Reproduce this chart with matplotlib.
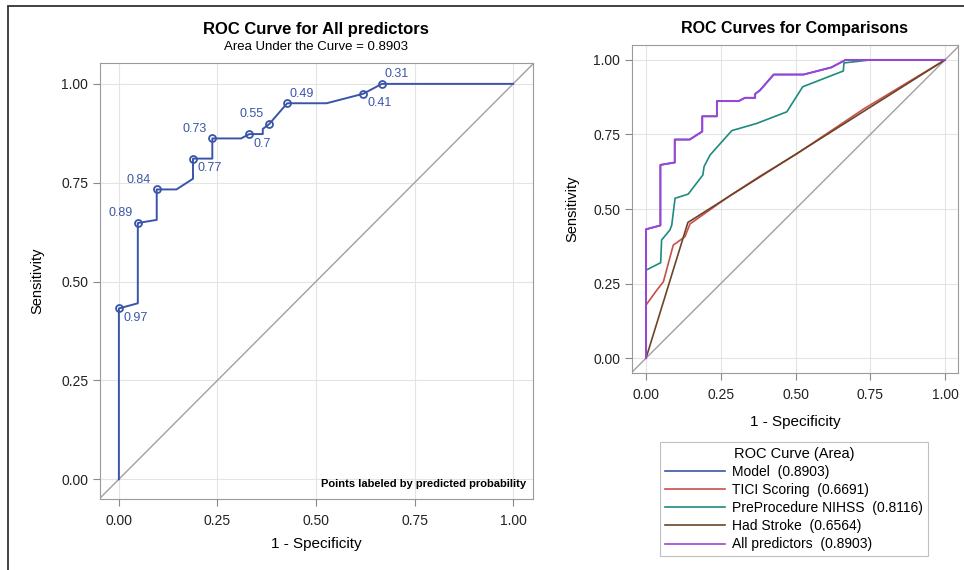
import matplotlib.pyplot as plt
from matplotlib.lines import Line2D
from matplotlib.patches import Rectangle

plt.rcParams['font.family'] = ['Liberation Sans', 'DejaVu Sans']

# left panel: model ROC path (1 - specificity, sensitivity)
model_fpr = [0.0, 0.0, 0.048, 0.048, 0.096, 0.096, 0.146, 0.188, 0.188, 0.237, 0.237,
             0.31, 0.331, 0.365, 0.365, 0.381, 0.427, 0.527, 0.62, 0.667, 1.0]
model_tpr = [0.0, 0.432, 0.445, 0.648, 0.656, 0.733, 0.733, 0.76, 0.811, 0.811, 0.862,
             0.862, 0.873, 0.873, 0.886, 0.898, 0.951, 0.951, 0.975, 1.0, 1.0]

# labeled points (predicted probability)
lab_fpr = [0.0, 0.048, 0.096, 0.188, 0.237, 0.331, 0.381, 0.427, 0.62, 0.667]
lab_tpr = [0.432, 0.648, 0.733, 0.811, 0.862, 0.873, 0.898, 0.951, 0.975, 1.0]
lab_txt = ['0.97', '0.89', '0.84', '0.77', '0.73', '0.7', '0.55', '0.49', '0.41', '0.31']
lab_pos = ['br', 'al', 'al', 'br', 'al', 'br', 'al', 'ar', 'br', 'ar']

# right panel: comparison curves
tici_fpr = [0.0, 0.0, 0.036, 0.058, 0.091, 0.13, 0.147, 0.281, 0.381, 0.504, 0.727, 1.0]
tici_tpr = [0.0, 0.178, 0.228, 0.256, 0.379, 0.407, 0.45, 0.545, 0.61, 0.685, 0.835, 1.0]

nihss_fpr = [0.0, 0.0, 0.049, 0.052, 0.08, 0.086, 0.097, 0.141, 0.19, 0.194, 0.214, 0.287,
             0.37, 0.471, 0.524, 0.66, 0.662, 0.75, 1.0]
nihss_tpr = [0.0, 0.295, 0.32, 0.396, 0.43, 0.446, 0.536, 0.55, 0.614, 0.642, 0.681, 0.763,
             0.787, 0.826, 0.91, 0.963, 0.99, 1.0, 1.0]

stroke_fpr = [0.0, 0.14, 1.0]
stroke_tpr = [0.0, 0.455, 1.0]

names = ['Model', 'TICI Scoring', 'PreProcedure NIHSS', 'Had Stroke', 'All predictors']
aucs = ['0.8903', '0.6691', '0.8116', '0.6564', '0.8903']
colors = ['#3a55a8', '#c8504a', '#1f8a7e', '#6b4526', '#9a45d8']

ticks = [0.0, 0.25, 0.5, 0.75, 1.0]
tick_lbls = ['0.00', '0.25', '0.50', '0.75', '1.00']

fig = plt.figure(figsize=(9.64, 5.70), dpi=100)
# outer frame of the figure (left and top edges visible)
fig.patches.append(Rectangle((8 / 964, -0.01), 1.0, 1 - 6 / 570 + 0.01, transform=fig.transFigure,
                             fill=False, edgecolor='#333333', lw=1.3))


def style(ax, xlim, ylim, ylpad, xlpad):
    ax.set_xlim(*xlim)
    ax.set_ylim(*ylim)
    ax.set_xticks(ticks)
    ax.set_xticklabels(tick_lbls, fontsize=10)
    ax.set_yticks(ticks)
    ax.set_yticklabels(tick_lbls, fontsize=10)
    ax.grid(True, color='#e4e4e4', lw=0.8)
    ax.set_axisbelow(True)
    for s in ax.spines.values():
        s.set_color('#9a9a9a')
    ax.tick_params(colors='#888888', labelcolor='#222222', length=5)
    ax.tick_params(axis='x', pad=6)
    ax.set_xlabel('1 - Specificity', fontsize=11, labelpad=xlpad)
    ax.set_ylabel('Sensitivity', fontsize=10.5, labelpad=ylpad)
    ax.plot([-0.1, 1.1], [-0.1, 1.1], color='#a0a0a0', lw=1.0, zorder=1)


# left chart
ax1 = fig.add_axes([0.1037, 0.1246, 0.449, 0.765])
style(ax1, (-0.048, 1.05), (-0.05, 1.053), 12, 6)
ax1.plot(model_fpr, model_tpr, color=colors[0], lw=1.4, zorder=3)
ax1.plot(lab_fpr, lab_tpr, 'o', ms=5, mfc='none', mec=colors[0], mew=1.3, zorder=4)
offs = {'br': (3, -7, 'left'), 'al': (-4, 7, 'right'), 'ar': (2, 7, 'left')}
for x, y, t, p in zip(lab_fpr, lab_tpr, lab_txt, lab_pos):
    dx, dy, ha = offs[p]
    ax1.annotate(t, (x, y), xytext=(dx, dy), textcoords='offset points',
                 ha=ha, va='center', fontsize=9, color='#3a55a8')
ax1.text(0.985, 0.022, 'Points labeled by predicted probability', transform=ax1.transAxes,
         ha='right', va='bottom', fontsize=8, fontweight='bold')
ax1.text(0.5, 1.06, 'ROC Curve for All predictors', transform=ax1.transAxes,
         ha='center', va='bottom', fontsize=12, fontweight='bold')
ax1.text(0.5, 1.022, 'Area Under the Curve = 0.8903', transform=ax1.transAxes,
         ha='center', va='bottom', fontsize=9.5)

# right chart
ax2 = fig.add_axes([0.6556, 0.3456, 0.338, 0.5754])
style(ax2, (-0.047, 1.043), (-0.05, 1.05), 10, 9)
ax2.plot(model_fpr, model_tpr, color=colors[0], lw=1.2, zorder=3)
ax2.plot(tici_fpr, tici_tpr, color=colors[1], lw=1.2, zorder=3)
ax2.plot(nihss_fpr, nihss_tpr, color=colors[2], lw=1.2, zorder=3)
ax2.plot(stroke_fpr, stroke_tpr, color=colors[3], lw=1.2, zorder=3)
ax2.plot(model_fpr, model_tpr, color=colors[4], lw=1.4, zorder=4)
ax2.set_title('ROC Curves for Comparisons', fontsize=11.5, fontweight='bold', pad=9)

handles = [Line2D([], [], color=c, lw=1.2) for c in colors]
labels = [f'{n}  ({a})' for n, a in zip(names, aucs)]
leg = fig.legend(handles, labels, title='ROC Curve (Area)', loc='upper left',
                 bbox_to_anchor=(0.685, 0.225), fontsize=10, title_fontsize=10.5,
                 frameon=True, fancybox=False, edgecolor='#b0b0b0',
                 handlelength=4.3, handletextpad=0.5, labelspacing=0.3,
                 borderpad=0.35, borderaxespad=0)
leg.get_frame().set_linewidth(0.8)

fig.savefig('out.png', dpi=100)
